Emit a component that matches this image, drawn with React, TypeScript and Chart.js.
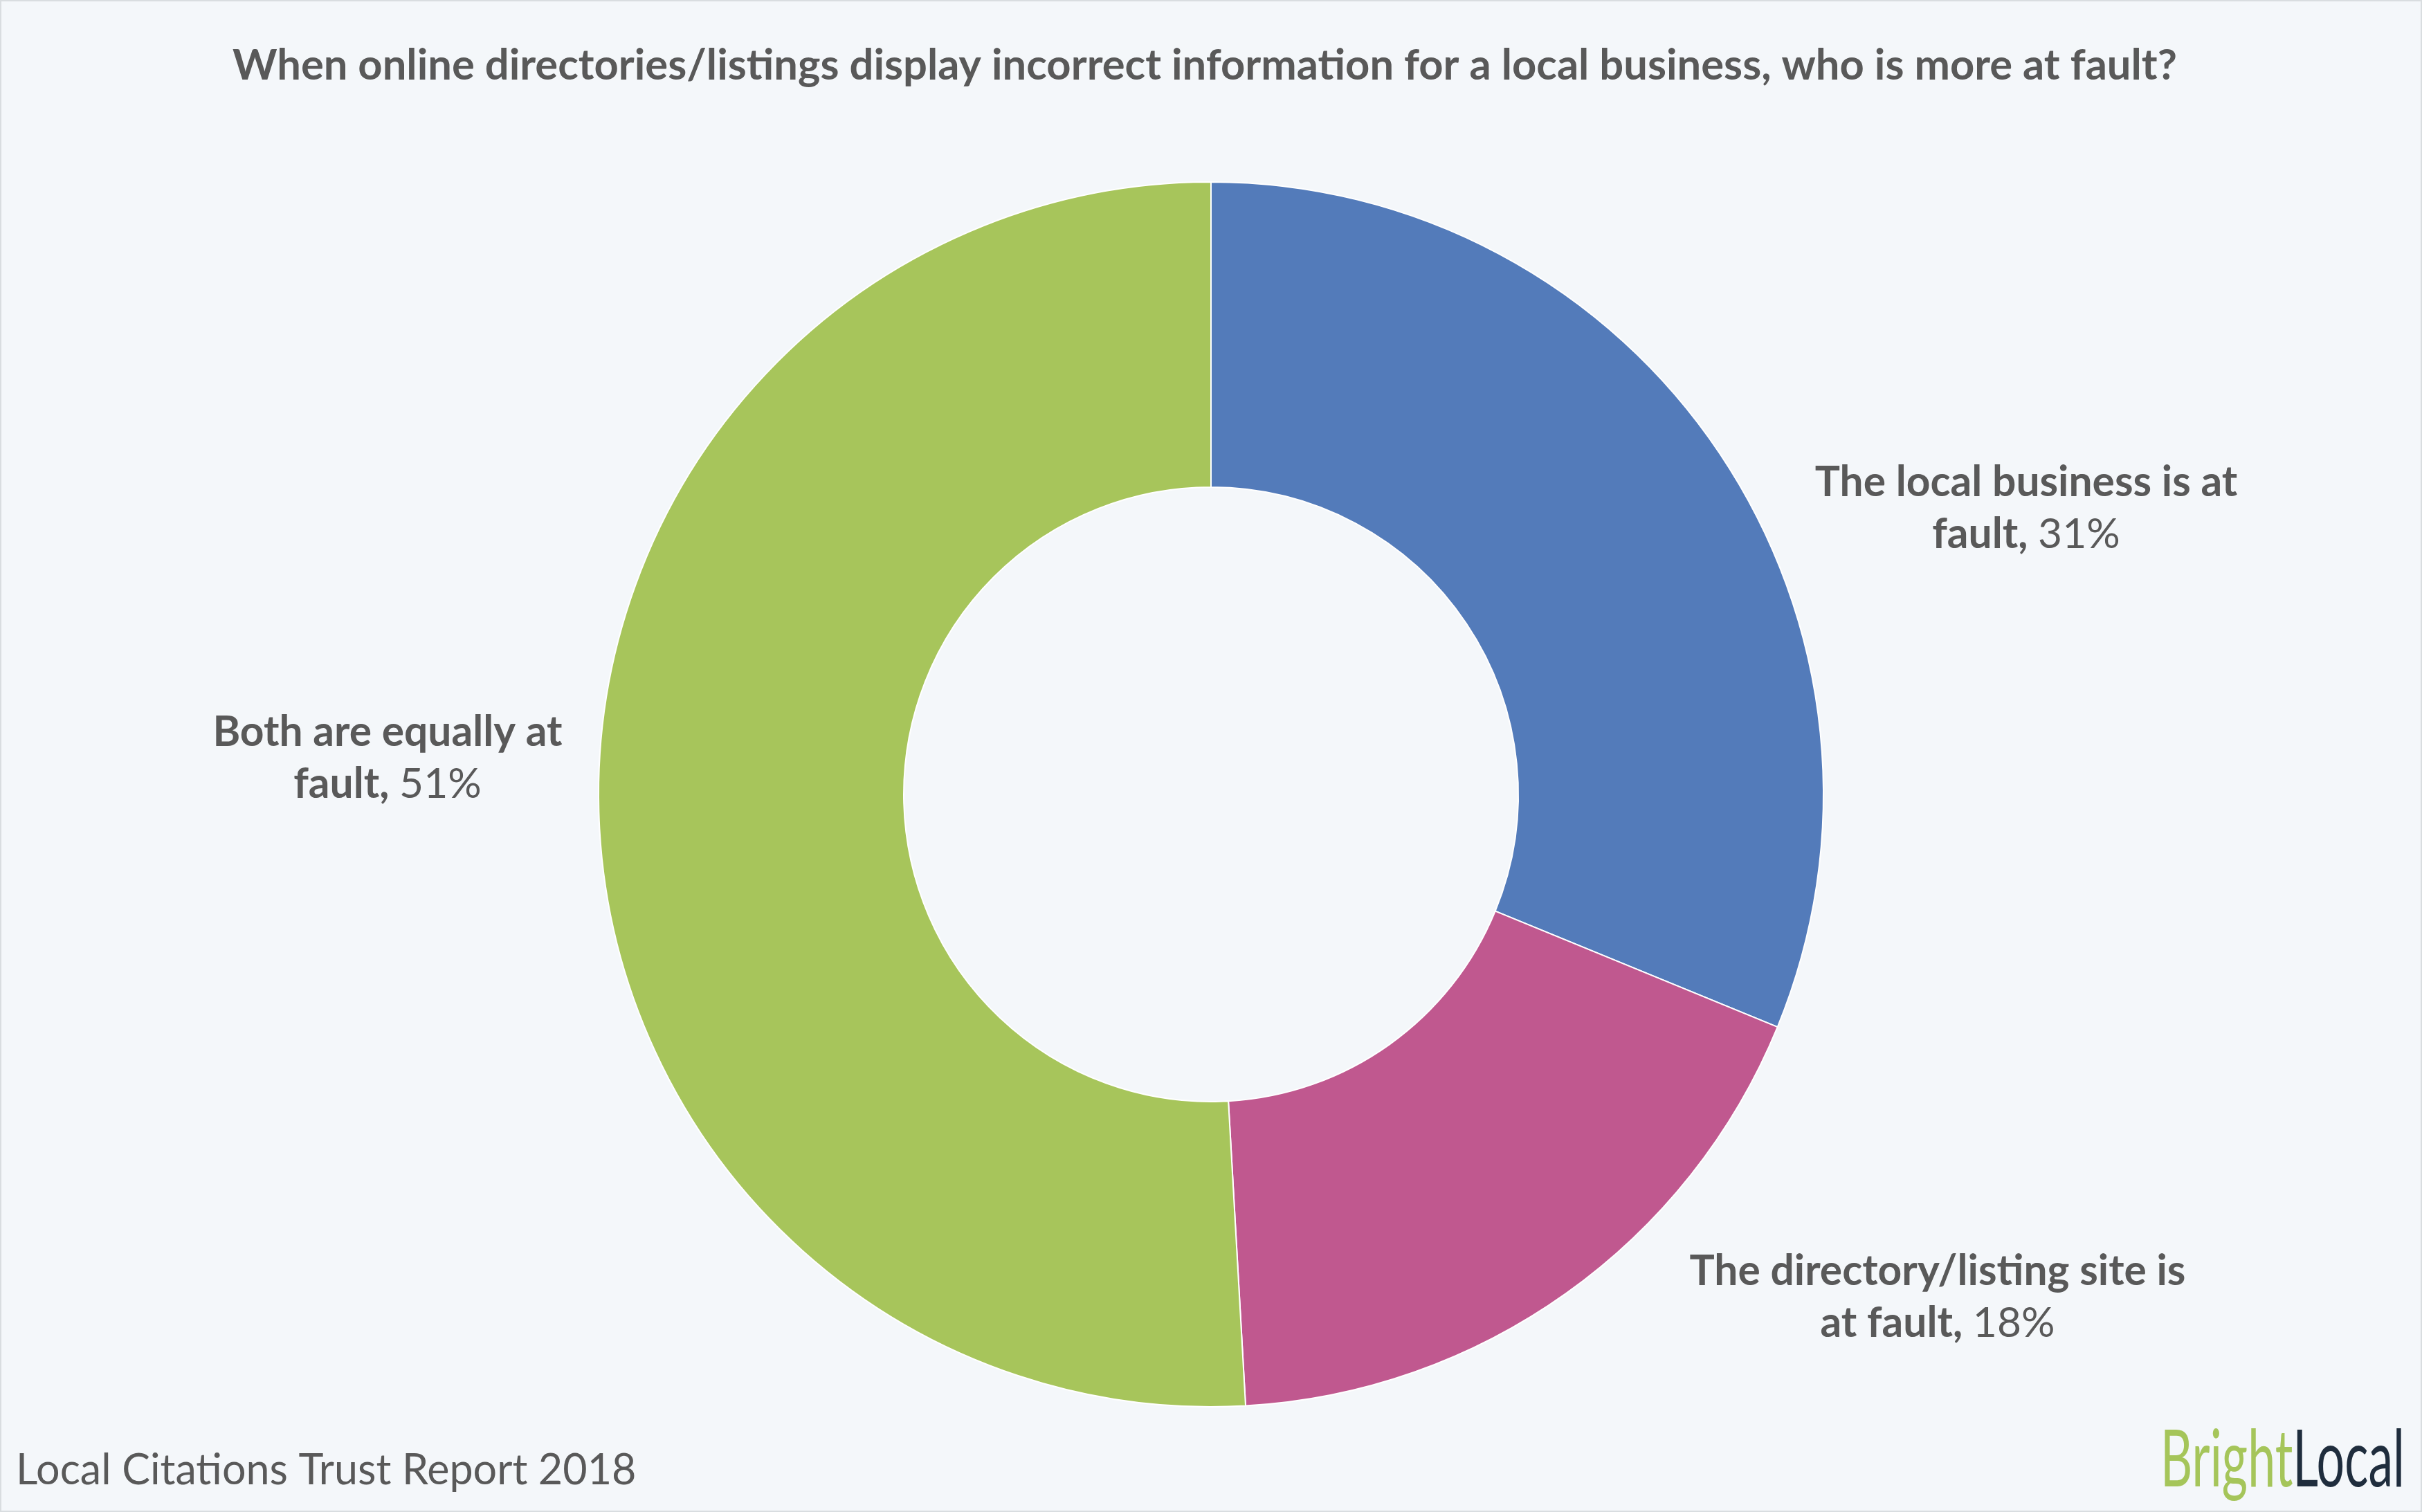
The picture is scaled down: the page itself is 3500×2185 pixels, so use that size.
import React, { useEffect, useRef } from "react";
import { Chart, registerables } from "chart.js";

Chart.register(...registerables);

const categories = [
  "The local business is at fault",
  "The directory/listing site is at fault",
  "Both are equally at fault",
];
const values = [31.2, 17.9, 50.9];
const colors = ["#537bba", "#c0588f", "#a7c55b"];
const labelLine1 = ["The local business is at", "The directory/listing site is", "Both are equally at"];
const labelLine2 = ["fault,", "at fault,", "fault,"];
const labelAnchors = [
  [2928, 717],
  [2800, 1857],
  [560, 1078],
];
const titleText =
  "When online directories/listings display incorrect information for a local business, who is more at fault?";
const footerText = "Local Citations Trust Report 2018";

const W = 3500;
const H = 2185;
const BG = "#f4f7fa";
const TEXT = "#595959";
const FONT = "Lato, 'Open Sans', sans-serif";

const decorPlugin = {
  id: "decor",
  beforeDraw(chart: any) {
    const ctx = chart.ctx;
    ctx.save();
    ctx.fillStyle = BG;
    ctx.fillRect(0, 0, W, H);
    ctx.restore();
  },
  afterDraw(chart: any) {
    const ctx = chart.ctx;
    ctx.save();
    ctx.textBaseline = "alphabetic";
    ctx.fillStyle = TEXT;

    // title
    ctx.font = `bold 61.5px ${FONT}`;
    ctx.textAlign = "center";
    ctx.fillText(titleText, 1741, 115);

    // labels
    const boldF = `bold 60.5px ${FONT}`;
    const regF = `60.5px ${FONT}`;
    for (let i = 0; i < values.length; i++) {
      const [cx, by] = labelAnchors[i];
      ctx.textAlign = "center";
      ctx.font = boldF;
      ctx.fillText(labelLine1[i], cx, by);
      const p1 = labelLine2[i] + " ";
      const p2 = Math.round(values[i]) + "%";
      ctx.font = boldF;
      const w1 = ctx.measureText(p1).width;
      ctx.font = regF;
      const w2 = ctx.measureText(p2).width;
      const sx = cx - (w1 + w2) / 2;
      ctx.textAlign = "left";
      ctx.font = boldF;
      ctx.fillText(p1, sx, by + 75);
      ctx.font = regF;
      ctx.fillText(p2, sx + w1, by + 75);
    }

    // footer
    ctx.textAlign = "left";
    ctx.font = `61px ${FONT}`;
    ctx.fillText(footerText, 23, 2145);

    // logo
    ctx.font = `115px ${FONT}`;
    const wB = ctx.measureText("Bright").width;
    const wL = ctx.measureText("Local").width;
    const s = 353 / (wB + wL);
    ctx.translate(3122, 2148);
    ctx.scale(s, 1);
    ctx.fillStyle = "#a5c55a";
    ctx.fillText("Bright", 0, 0);
    ctx.fillStyle = "#1f2d3d";
    ctx.fillText("Local", wB, 0);
    ctx.restore();

    // border
    ctx.save();
    ctx.strokeStyle = "#d9dde0";
    ctx.lineWidth = 2;
    ctx.strokeRect(1, 1, W - 2, H - 2);
    ctx.restore();
  },
};

export default function App() {
  const ref = useRef<HTMLCanvasElement>(null);
  useEffect(() => {
    document.body.style.margin = "0";
    const chart = new Chart(ref.current as HTMLCanvasElement, {
      type: "doughnut",
      data: {
        labels: categories,
        datasets: [
          {
            data: values,
            backgroundColor: colors,
            borderColor: "#ffffff",
            borderWidth: 2,
            hoverOffset: 0,
          },
        ],
      },
      options: {
        responsive: false,
        animation: false,
        devicePixelRatio: 1,
        radius: 885,
        cutout: 445,
        layout: { padding: { top: 260, bottom: 149, left: 862, right: 862 } },
        plugins: {
          legend: { display: false },
          title: { display: false },
          tooltip: { enabled: false },
        },
      } as any,
      plugins: [decorPlugin],
    });
    return () => chart.destroy();
  }, []);
  return (
    <div style={{ width: W, height: H }}>
      <canvas ref={ref} width={W} height={H} style={{ width: W, height: H, display: "block" }} />
    </div>
  );
}
